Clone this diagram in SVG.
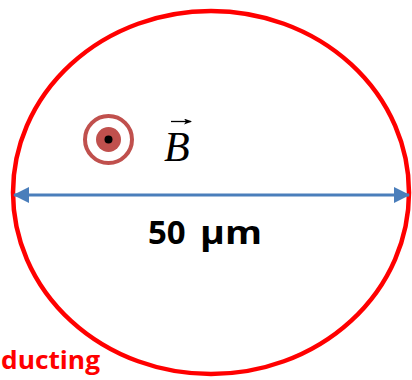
<svg xmlns="http://www.w3.org/2000/svg" width="412" height="380" viewBox="0 0 412 380">
  <defs>
    <style>
      .ring { fill: none; stroke: #FF0000; stroke-width: 4.5; }
      .dim { stroke: #4A7EBB; stroke-width: 3.2; fill: none; }
      .lbl { font-family: "Open Sans", "Liberation Sans", sans-serif; font-weight: bold; }
    </style>
    <marker id="ah" viewBox="0 0 16 16" refX="15" refY="8" markerWidth="16" markerHeight="16" markerUnits="userSpaceOnUse" orient="auto-start-reverse">
      <path d="M0,0 L16,8 L0,16 Z" fill="#4A7EBB"/>
    </marker>
    <marker id="vh" viewBox="0 0 8 6" refX="7" refY="3" markerWidth="8" markerHeight="6" markerUnits="userSpaceOnUse" orient="auto">
      <path d="M0,0 L8,3 L0,6 L2,3 Z" fill="#000"/>
    </marker>
  </defs>
  <rect width="412" height="380" fill="#fff"/>
  <g id="sample">
    <ellipse class="ring" cx="211" cy="192.5" rx="198" ry="181.5"/>
  </g>
  <g id="connectors">
    <line class="dim" x1="14" y1="195" x2="409" y2="195" marker-start="url(#ah)" marker-end="url(#ah)"/>
  </g>
  <g id="field-symbol">
    <circle cx="108.5" cy="139.5" r="23.5" fill="none" stroke="#C0504D" stroke-width="4"/>
    <circle cx="108.5" cy="139.5" r="12.5" fill="#C0504D"/>
    <circle cx="108.5" cy="139.5" r="4" fill="#000"/>
  </g>
  <g id="field-label">
    <line x1="171" y1="121.5" x2="191" y2="121.5" stroke="#000" stroke-width="1.3" marker-end="url(#vh)"/>
    <text x="164" y="161" font-family="Liberation Serif, serif" font-style="italic" font-size="42">B</text>
  </g>
  <g id="dimension-label">
    <text class="lbl" y="244" font-size="33" fill="#000"><tspan x="148">50</tspan><tspan x="200" textLength="62" lengthAdjust="spacingAndGlyphs">μm</tspan></text>
  </g>
  <g id="caption">
    <text class="lbl" x="1" y="369" font-size="25" fill="#FF0000" textLength="99" lengthAdjust="spacingAndGlyphs">ducting</text>
  </g>
</svg>
